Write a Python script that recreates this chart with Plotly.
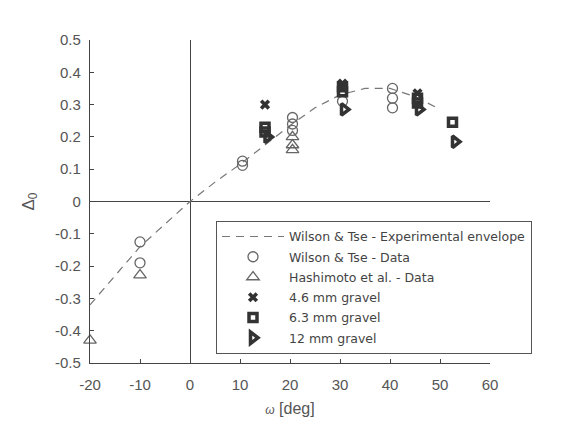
import plotly.graph_objects as go

# Envelope (Wilson & Tse - experimental envelope)
env_x = [-20, -15, -10, -5, 0, 5, 10, 15, 20, 25, 30, 35, 40, 45, 50]
env_y = [-0.32, -0.23, -0.14, -0.07, 0.0, 0.06, 0.115, 0.175, 0.235, 0.29, 0.33, 0.35, 0.35, 0.325, 0.285]

# Wilson & Tse data (circles)
wt_x = [-10, -10, 10.5, 10.5, 20.5, 20.5, 20.5, 30.5, 40.5, 40.5, 40.5]
wt_y = [-0.125, -0.19, 0.125, 0.112, 0.26, 0.24, 0.22, 0.31, 0.35, 0.32, 0.29]

# Hashimoto et al. data (triangles)
ha_x = [-20, -10, 20.5, 20.5, 20.5]
ha_y = [-0.43, -0.228, 0.2, 0.175, 0.16]

# 4.6 mm gravel
g46_x = [15, 30.5, 45.5]
g46_y = [0.30, 0.365, 0.335]

# 6.3 mm gravel
g63_x = [15, 15, 30.5, 30.5, 45.5, 45.5, 52.5]
g63_y = [0.23, 0.215, 0.355, 0.34, 0.32, 0.305, 0.245]

# 12 mm gravel
g12_x = [15.5, 30.8, 45.8, 53]
g12_y = [0.20, 0.285, 0.285, 0.185]

x_ticks = [-20, -10, 0, 10, 20, 30, 40, 50, 60]
x_labels = ["-20", "-10", "0", "10", "20", "30", "40", "50", "60"]
y_ticks = [-0.5, -0.4, -0.3, -0.2, -0.1, 0, 0.1, 0.2, 0.3, 0.4, 0.5]
y_labels = ["-0.5", "-0.4", "-0.3", "-0.2", "-0.1", "0", "0.1", "0.2", "0.3", "0.4", "0.5"]

dark = "#333333"
gray = "#666666"

fig = go.Figure()
fig.add_trace(go.Scatter(x=env_x, y=env_y, mode="lines", legendgroup="a",
                         line=dict(color="#777777", width=1.2, dash="8px,6px"),
                         name="Wilson & Tse - Experimental envelope"))
fig.add_trace(go.Scatter(x=wt_x, y=wt_y, mode="markers", legendgroup="b", cliponaxis=False,
                         marker=dict(symbol="circle-open", size=10, color=gray, line=dict(width=1.3, color=gray)),
                         name="Wilson & Tse - Data"))
fig.add_trace(go.Scatter(x=ha_x, y=ha_y, mode="markers", legendgroup="c", cliponaxis=False,
                         marker=dict(symbol="triangle-up-open", size=11, color=gray, line=dict(width=1.3, color=gray)),
                         name="Hashimoto et al. - Data"))
fig.add_trace(go.Scatter(x=g46_x, y=g46_y, mode="markers", legendgroup="d", cliponaxis=False,
                         marker=dict(symbol="x", size=9, color=dark, line=dict(width=0)),
                         name="4.6 mm gravel"))
fig.add_trace(go.Scatter(x=g63_x, y=g63_y, mode="markers", legendgroup="e", cliponaxis=False,
                         marker=dict(symbol="square-open", size=8, color=dark, line=dict(width=3.5, color=dark)),
                         name="6.3 mm gravel"))
fig.add_trace(go.Scatter(x=g12_x, y=g12_y, mode="markers", legendgroup="f", cliponaxis=False,
                         marker=dict(symbol="triangle-right-open", size=10, color=dark, line=dict(width=3.5, color=dark)),
                         name="12 mm gravel"))

fig.update_layout(
    width=572, height=422,
    margin=dict(l=82, r=90, t=32, b=67),
    paper_bgcolor="white", plot_bgcolor="white",
    font=dict(family="Liberation Sans, Arial, sans-serif", size=15, color="#555555"),
    showlegend=True,
    legend=dict(x=0.315, y=0.44, xanchor="left", yanchor="top",
                bordercolor="#555555", borderwidth=1, bgcolor="white",
                font=dict(family="DejaVu Sans, sans-serif", size=12.5, color="#444444"),
                tracegroupgap=1, traceorder="grouped",
                itemwidth=62),
    xaxis=dict(range=[-20, 60], tickvals=x_ticks, ticktext=x_labels,
               showgrid=False, zeroline=True, zerolinecolor="#444444", zerolinewidth=1.2,
               showline=True, linecolor="#444444", linewidth=1.2,
               ticks="inside", ticklen=4, tickcolor="#444444",
               ticklabelstandoff=8,
               title=dict(text="<i><span style='font-size:12px'>ω</span></i> [deg]", standoff=10,
                          font=dict(size=16))),
    yaxis=dict(range=[-0.5, 0.5], tickvals=y_ticks, ticktext=y_labels,
               showgrid=False, zeroline=True, zerolinecolor="#444444", zerolinewidth=1.2,
               showline=True, linecolor="#444444", linewidth=1.2,
               ticks="inside", ticklen=4, tickcolor="#444444",
               ticklabelstandoff=5,
               title=dict(text="Δ<sub>0</sub>", standoff=16, font=dict(size=17))),
)

fig.write_html("out.html")
